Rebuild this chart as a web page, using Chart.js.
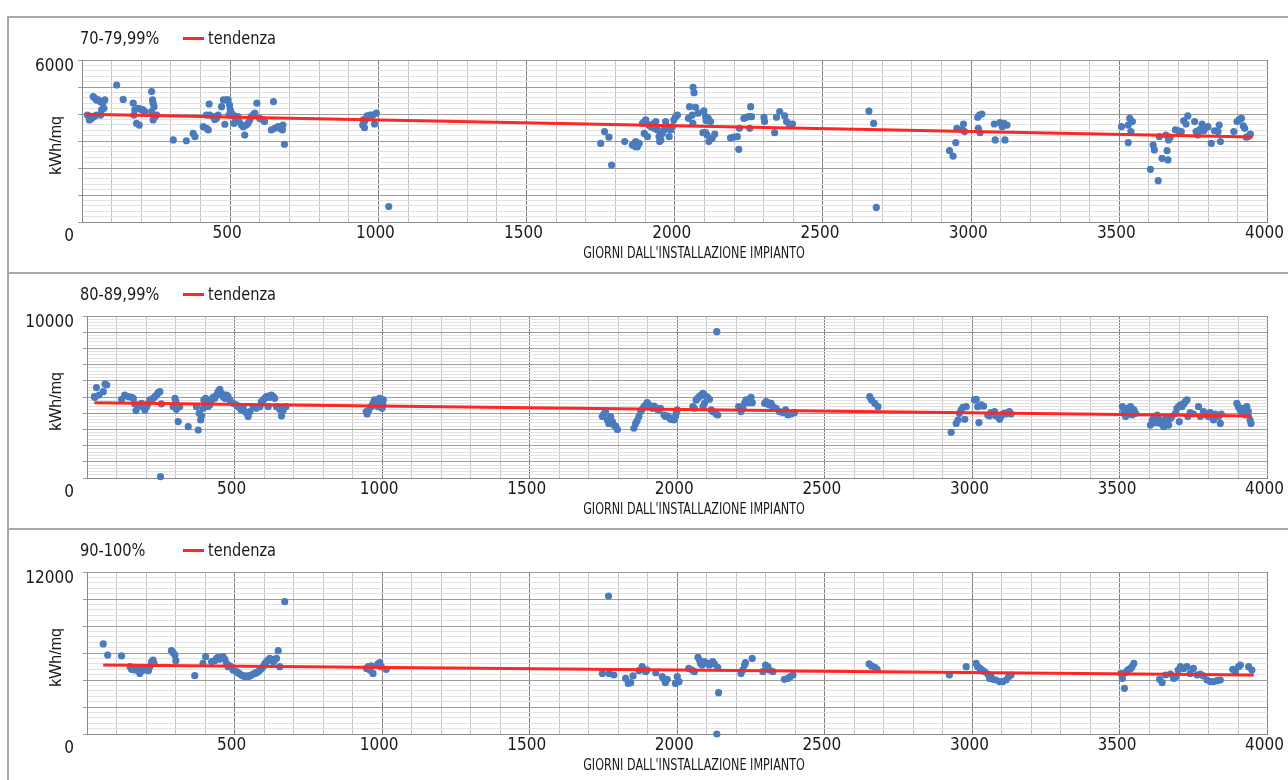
<!DOCTYPE html>
<html>
<head>
<meta charset="utf-8">
<title>kWh/mq</title>
<script src="https://cdn.jsdelivr.net/npm/chart.js@4.4.0/dist/chart.umd.min.js"></script>
<style>
	body { margin: 0; width: 1288px; height: 780px; overflow: hidden; background: #fff;
		font-family: "Liberation Sans Narrow", "DejaVu Sans Condensed", sans-serif; color: #1a1a1a; }
	.panel { position: absolute; left: 7px; width: 1279px; height: 254px;
		border-top: 2px solid #a8a8a8; border-left: 2px solid #a8a8a8; }
	.plot { position: absolute; left: 0; top: 0; width: 1279px; height: 254px; }
	.name, .tend { position: absolute; top: 10px; font-size: 18px; line-height: 20px; white-space: nowrap;
		transform: scaleX(0.9); transform-origin: left center; }
	.name { left: 71px; }
	.tend { left: 199px; }
	.key { position: absolute; left: 174px; top: 19px; width: 21px; height: 3px; background: #ff2626; }
	.xt { position: absolute; left: 485px; top: 225px; width: 400px; text-align: center;
		font-size: 15px; line-height: 20px; white-space: nowrap;
		transform: scaleX(0.83); transform-origin: center center; }
</style>
</head>
<body>

<div class="panel" style="top:16px">
	<div class="plot"><canvas id="c70"></canvas></div>
	<div class="name">70-79,99%</div><div class="key"></div><div class="tend">tendenza</div>
	<div class="xt">GIORNI DALL'INSTALLAZIONE IMPIANTO</div>
</div>
<div class="panel" style="top:272px">
	<div class="plot"><canvas id="c80"></canvas></div>
	<div class="name">80-89,99%</div><div class="key"></div><div class="tend">tendenza</div>
	<div class="xt">GIORNI DALL'INSTALLAZIONE IMPIANTO</div>
</div>
<div class="panel" style="top:528px">
	<div class="plot"><canvas id="c90"></canvas></div>
	<div class="name">90-100%</div><div class="key"></div><div class="tend">tendenza</div>
	<div class="xt">GIORNI DALL'INSTALLAZIONE IMPIANTO</div>
</div>

<script>
'use strict';

// 70-79,99%
var days70 = [18,25,33,38,44,49,55,61,63,66,70,74,77,49,40,117,139,173,175,178,184,193,190,201,206,212,
	235,238,240,243,235,240,246,252,308,352,375,381,409,420,426,429,420,431,443,448,454,459,471,477,482,
	487,493,498,500,496,504,510,515,521,526,513,530,538,544,549,554,560,566,571,577,583,590,599,611,616,
	646,639,650,661,672,678,676,683,667,947,949,953,958,962,967,972,981,987,993,953,1035,
	1750,1763,1778,1787,1831,1857,1862,1868,1874,1880,1868,1891,1897,1902,1897,1908,1913,1919,1925,1930,
	1936,1941,1947,1949,1953,1958,1964,1969,1975,1981,1986,1992,1997,2003,2009,2046,2050,2059,2062,2065,
	2061,2070,2079,2098,2104,2106,2113,2121,2095,2104,2109,2115,2126,2135,2188,2199,2211,2216,2218,2233,
	2241,2250,2256,2259,2253,2301,2303,2337,2343,2354,2371,2377,2386,2397,
	2655,2671,2680,2927,2939,2948,2952,2970,2974,2978,3022,3028,3036,3024,3030,3078,3081,3097,3105,3111,
	3114,3121,3507,3530,3535,3539,3544,3530,3605,3614,3618,3631,3635,3644,3657,3661,3664,3666,3672,3689,
	3700,3709,3717,3725,3731,3754,3759,3765,3770,3779,3785,3790,3799,3810,3821,3833,3837,3841,3886,3897,
	3905,3912,3918,3923,3928,3934,3942];
var kwh70 = [3960,3780,3840,4640,4580,4520,4520,4460,3960,4150,4400,4210,4520,3960,3900,5070,4540,4400,3960,4150,3650,3590,4210,4150,4150,4090,
	4830,4520,4400,4270,4090,3780,3900,3960,3040,3010,3280,3160,3530,3470,3410,4370,3960,3960,3900,3800,3840,3960,4270,4520,3620,
	4520,4520,4330,4150,3960,4030,3960,3900,3840,3900,3650,3720,3590,3530,3220,3590,3650,3780,3900,3960,4030,4400,3840,3780,3720,
	4460,3410,3470,3530,3530,3590,3410,2880,3470,3590,3780,3720,3840,3930,3880,3960,3960,3630,4030,3490,570,
	2910,3350,3140,2110,2980,2850,2890,2980,2790,2910,2790,3650,3720,3780,3280,3160,3590,3530,3630,3470,
	3720,3410,3160,2980,3040,3280,3410,3720,3530,3160,3410,3530,3780,3900,3960,3840,4270,3960,4990,4790,
	3650,4250,4030,4120,3900,3750,3840,3720,3310,3310,3220,2980,3100,3260,3120,3140,3160,2690,3470,3840,
	3880,3900,4270,3900,3470,3880,3720,3310,3880,4090,3930,3720,3630,3630,
	4110,3650,540,2640,2440,2940,3470,3410,3630,3350,3880,3960,4000,3470,3310,3630,3040,3680,3530,3650,
	3040,3590,3530,3590,3840,3350,3720,2940,1950,2850,2670,1530,3160,2360,3220,2640,2300,3040,3140,3410,
	3380,3350,3750,3630,3930,3720,3350,3220,3410,3630,3380,3470,3530,2910,3380,3350,3590,2980,3350,3720,
	3800,3840,3560,3470,3140,3160,3260];

// 80-89,99%
var days80 = [25,27,32,41,55,61,67,117,128,140,151,157,162,166,174,185,191,196,202,208,213,219,224,230,236,241,
	247,252,249,292,298,301,303,309,314,343,377,371,380,385,388,394,396,402,407,410,416,422,427,433,439,
	444,450,456,461,467,473,478,484,495,506,512,518,523,529,535,541,546,552,563,574,586,591,597,602,608,
	614,619,625,631,636,614,642,653,659,665,674,946,949,955,963,969,974,980,986,991,997,1002,1000,1004,
	1746,1751,1757,1763,1768,1774,1780,1785,1791,1797,1853,1859,1864,1870,1876,1881,1887,1893,1898,1904,
	1910,1915,1921,1926,1932,1938,1943,1955,1960,1966,1972,1977,1983,1989,1994,1997,2000,2053,2058,2064,
	2069,2075,2081,2087,2092,2098,2103,2109,2087,2092,2115,2120,2132,2134,2137,2208,2216,2222,2228,2233,
	2239,2244,2250,2254,2296,2301,2307,2312,2318,2324,2335,2346,2358,2367,2375,2386,2397,
	2652,2658,2669,2680,2928,2945,2951,2956,2962,2968,2974,2979,3007,3013,3018,3022,3030,3038,3052,3058,
	3063,3069,3075,3080,3092,3097,3103,3108,3114,3120,3125,3131,3508,3513,3519,3525,3530,3536,3541,3547,
	3553,3603,3609,3615,3620,3626,3632,3637,3643,3648,3654,3660,3665,3671,3676,3688,3693,3699,3705,3701,
	3710,3716,3721,3727,3730,3738,3749,3766,3772,3783,3789,3800,3806,3817,3823,3834,3840,3843,3896,3901,
	3907,3913,3918,3924,3930,3935,3941,3944];
var kwh80 = [5020,4980,5580,5120,5330,5800,5740,4860,5120,5020,4980,4920,4570,4160,4400,4610,4400,4200,4400,4610,4820,4860,4920,5020,5120,5270,
	5330,4570,80,4400,4920,4710,4240,3480,4400,3170,2960,4400,3990,3580,3830,4300,4820,4920,4610,4400,4510,4820,4980,4920,5120,
	5330,5470,5230,5020,4920,5120,5020,4820,4610,4510,4400,4300,4200,4400,4100,4030,3790,4100,4400,4300,4400,4710,4820,4920,5020,
	5060,4980,5120,5020,4920,4400,4400,4240,3830,4200,4400,4100,3950,4200,4400,4610,4820,4610,4400,4920,4710,4510,4300,4820,
	3790,3950,4100,3580,3370,3790,3480,3270,3210,3000,3070,3370,3540,3790,4100,4240,4400,4510,4650,4510,
	4400,4300,4440,4360,4240,4200,4300,3890,3790,3830,3750,3620,3680,3580,3790,4030,4200,4400,4300,4820,
	4920,5020,5120,5230,5120,5020,4980,4860,4400,4610,4200,4100,3950,9030,3890,4400,4100,4300,4610,4820,
	4650,4860,4980,4650,4610,4710,4650,4510,4610,4400,4300,4100,4030,4200,3890,3950,4030,
	5020,4820,4610,4400,2820,3370,3580,3990,4200,4360,3620,4400,4820,4860,4400,3420,4510,4440,3890,3830,
	4030,3950,4100,3830,3620,3830,3950,3990,3950,4030,4100,3950,4400,4100,3790,4300,3990,4400,3890,4200,
	3990,3270,3580,3790,3420,3890,3620,3370,3480,3170,3620,3420,3270,3680,3790,3990,4300,4400,4510,3480,
	4400,4570,4710,4820,3790,4030,3950,4400,3790,4100,3890,3790,4030,3580,3950,3790,3370,3950,4610,4400,
	4200,3990,4300,3890,4400,4100,3580,3370];

// 90-100%
var days90 = [55,70,117,146,151,157,162,168,174,179,185,191,196,202,208,213,219,224,227,286,292,298,301,365,393,402,
	422,433,439,444,450,456,461,467,473,478,484,490,495,506,512,518,523,529,535,541,546,552,557,563,569,
	574,580,586,591,597,602,608,614,619,625,631,636,642,648,653,670,947,953,958,964,969,986,992,997,1014,
	1746,1767,1769,1785,1825,1834,1842,1850,1870,1881,1887,1893,1898,1927,1949,1955,1960,1966,1994,2000,
	2006,2039,2050,2058,2070,2075,2079,2084,2092,2103,2109,2120,2126,2137,2140,2134,2216,2222,2228,2231,
	2254,2290,2299,2307,2312,2324,2363,2375,2383,2392,
	2650,2658,2669,2677,2922,2979,3013,3018,3026,3033,3041,3052,3058,3063,3069,3080,3092,3103,3114,3123,
	3131,3503,3508,3515,3519,3525,3530,3536,3541,3547,3634,3643,3654,3671,3682,3690,3697,3705,3716,3727,
	3738,3749,3761,3772,3783,3795,3806,3817,3829,3840,3882,3891,3902,3908,3936,3947];
var kwh90 = [6670,5850,5780,4990,4790,4860,4740,4790,4860,4490,4690,4790,4740,4790,4690,4990,5360,5480,5230,6170,6020,5850,5430,4320,5230,5730,
	5360,5430,5600,5680,5530,5600,5730,5530,5230,4990,5040,4940,4740,4620,4540,4440,4370,4300,4250,4300,4250,4300,4370,4440,4490,
	4540,4620,4740,4860,4990,5190,5360,5480,5600,5530,5360,5480,5600,6170,4990,9800,4860,4990,4740,5040,4490,5190,5280,4990,4790,
	4490,10220,4490,4370,4120,3750,3800,4300,4690,4990,4790,4620,4740,4540,4250,4050,3800,4050,3750,4250,
	3880,4860,4740,4620,5680,5480,5230,5110,5360,5230,5110,5360,5190,4940,3060,0,4490,4740,5110,5280,
	5600,4620,5110,4990,4740,4620,4050,4120,4250,4370,
	5190,5040,4940,4790,4370,4990,5230,4990,4860,4740,4620,4440,4120,4250,4050,4000,3880,3880,4000,4250,
	4370,4490,4120,3380,4540,4690,4790,4860,4990,5230,4050,3800,4370,4440,4120,4250,4740,4990,4860,4990,
	4490,4860,4370,4440,4300,4000,3880,3880,3950,4000,4790,4620,4990,5110,4990,4740];

// linee di tendenza (estremi)
var trendDays70 = [13, 3950];
var trendKwh70 = [3990, 3150];
var trendDays80 = [25, 3947];
var trendKwh80 = [4650, 3830];
var trendDays90 = [55, 3953];
var trendKwh90 = [5110, 4370];

// assi
var xMax = 4000;
var xStep = 100;
var xMajor = 500;

var narrow = "'Liberation Sans Narrow', 'DejaVu Sans Condensed', sans-serif";

function toPoints(xs, ys) {
	var pts = [];
	for (var i = 0; i < xs.length; i++) {
		pts.push({ x: xs[i], y: ys[i] });
	}
	return pts;
}

function drawPanel(id, days, kwh, tDays, tKwh, yMax, yStep, yMajor, axisWidth, labelPad) {
	var ctx = document.getElementById(id);
	return new Chart(ctx, {
		type: 'scatter',
		data: {
			datasets: [{
				type: 'line',
				data: toPoints(tDays, tKwh),
				borderColor: '#ff2626',
				borderWidth: 3,
				pointRadius: 0,
				fill: false,
				order: 0
			}, {
				data: toPoints(days, kwh),
				backgroundColor: '#4a7bbd',
				borderWidth: 0,
				pointRadius: 3.6,
				clip: false,
				order: 1
			}]
		},
		options: {
			responsive: true,
			maintainAspectRatio: false,
			animation: false,
			layout: { padding: { top: 42, right: 18, bottom: 26, left: 0 } },
			plugins: { legend: { display: false }, tooltip: { enabled: false } },
			scales: {
				x: {
					type: 'linear',
					min: 0,
					max: xMax,
					afterFit: function(s) { s.height = 24; },
					ticks: {
						stepSize: xStep,
						maxTicksLimit: 100,
						autoSkip: false,
						maxRotation: 0,
						padding: 1,
						labelOffset: -3,
						color: '#1a1a1a',
						font: { family: narrow, size: 17 },
						callback: function(v) { return (v % xMajor === 0 && v !== 0) ? String(v) : ''; }
					},
					grid: {
						drawTicks: false,
						color: function(c) { return c.tick && c.tick.value % xMajor === 0 ? '#7f7f7f' : '#c4c4c4'; }
					},
					border: { color: '#8a8a8a' }
				},
				y: {
					min: 0,
					max: yMax,
					afterFit: function(s) { s.width = axisWidth; },
					title: {
						display: true,
						text: 'kWh/mq  ',
						color: '#1a1a1a',
						font: { family: "'Liberation Sans', Arial, sans-serif", size: 16 },
						padding: { top: 38, bottom: 0 }
					},
					ticks: {
						stepSize: yStep,
						maxTicksLimit: 100,
						autoSkip: false,
						padding: labelPad,
						labelOffset: 7,
						color: '#1a1a1a',
						font: { family: narrow, size: 17, lineHeight: 0.9 },
						callback: function(v) {
							if (v === yMax) return String(v);
							if (v === 0) return ['', '0'];
							return '';
						}
					},
					grid: {
						tickLength: 4,
						color: function(c) { return c.tick && c.tick.value % yMajor === 0 ? '#9c9c9c' : '#e2e2e2'; },
						tickColor: function(c) { return c.tick && c.tick.value % yMajor === 0 ? '#9c9c9c' : 'rgba(0,0,0,0)'; }
					},
					border: { color: '#8a8a8a' }
				}
			}
		}
	});
}

window.onload = function() {
	drawPanel('c70', days70, kwh70, trendDays70, trendKwh70, 6000, 200, 1000, 73, 4);
	drawPanel('c80', days80, kwh80, trendDays80, trendKwh80, 10000, 200, 1000, 78, 9);
	drawPanel('c90', days90, kwh90, trendDays90, trendKwh90, 12000, 400, 2000, 78, 9);
};
</script>
</body>
</html>
